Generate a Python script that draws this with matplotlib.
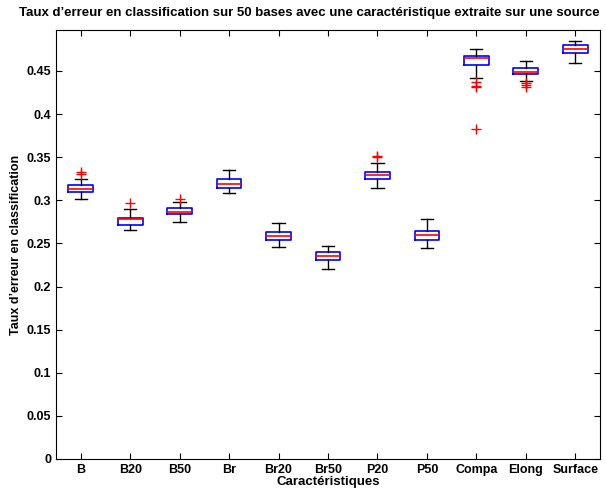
import matplotlib
matplotlib.use("Agg")
import matplotlib.pyplot as plt

plt.rcParams['font.family'] = ['Liberation Sans', 'DejaVu Sans']

# Statistics, one value per feature
labels = ['B', 'B20', 'B50', 'Br', 'Br20', 'Br50', 'P20', 'P50', 'Compa', 'Elong', 'Surface']
med    = [0.3135, 0.2780, 0.2868, 0.3190, 0.2586, 0.2351, 0.3290, 0.2598, 0.4647, 0.4489, 0.4759]
q1     = [0.3100, 0.2717, 0.2842, 0.3147, 0.2537, 0.2312, 0.3244, 0.2540, 0.4566, 0.4462, 0.4705]
q3     = [0.3174, 0.2795, 0.2908, 0.3244, 0.2636, 0.2397, 0.3325, 0.2648, 0.4671, 0.4531, 0.4802]
whislo = [0.3016, 0.2653, 0.2745, 0.3085, 0.2455, 0.2204, 0.3140, 0.2444, 0.4415, 0.4381, 0.4596]
whishi = [0.3244, 0.2903, 0.2981, 0.3348, 0.2734, 0.2474, 0.3433, 0.2787, 0.4759, 0.4613, 0.4845]
fliers = [[0.3325, 0.3305], [0.2966], [0.3016], [], [], [], [0.3518, 0.3499], [],
          [0.4369, 0.4326, 0.4311, 0.3831], [0.4357, 0.4334, 0.4311], []]

stats = []
for i in range(len(labels)):
    stats.append({'label': labels[i], 'med': med[i], 'q1': q1[i], 'q3': q3[i],
                  'whislo': whislo[i], 'whishi': whishi[i], 'fliers': fliers[i]})

fig = plt.figure(figsize=(6.06, 4.92), dpi=100)
ax = fig.add_axes([0.0924, 0.0671, 0.8976, 0.8719])

ax.bxp(stats, positions=range(1, len(labels) + 1), widths=0.5,
       boxprops=dict(color='blue', linewidth=1.2),
       medianprops=dict(color='red', linewidth=1.2),
       whiskerprops=dict(color='black', linewidth=1.0),
       capprops=dict(color='black', linewidth=1.0),
       flierprops=dict(marker='+', markeredgecolor='red', markersize=7, markeredgewidth=1.0))

ax.set_xlim(0.5, 11.5)
ax.set_ylim(0, 0.4975)
ax.set_yticks([0, 0.05, 0.1, 0.15, 0.2, 0.25, 0.3, 0.35, 0.4, 0.45])
ax.set_yticklabels(['0', '0.05', '0.1', '0.15', '0.2', '0.25', '0.3', '0.35', '0.4', '0.45'])
ax.tick_params(direction='in', top=True, right=True, labelsize=9, length=4)
for lab in ax.get_xticklabels() + ax.get_yticklabels():
    lab.set_fontweight('bold')

# title centred on the figure like the original, not on the axes
fig.text(0.511, 0.974,
         "Taux d’erreur en classification sur 50 bases avec une caractéristique extraite sur une source",
         ha='center', va='center', fontsize=9.5, fontweight='bold')
ax.set_xlabel('Caractéristiques', fontsize=9.5, fontweight='bold', labelpad=0)
ax.set_ylabel("Taux d’erreur en classification", fontsize=9, fontweight='bold', labelpad=3)

plt.savefig('out.png', dpi=100)
